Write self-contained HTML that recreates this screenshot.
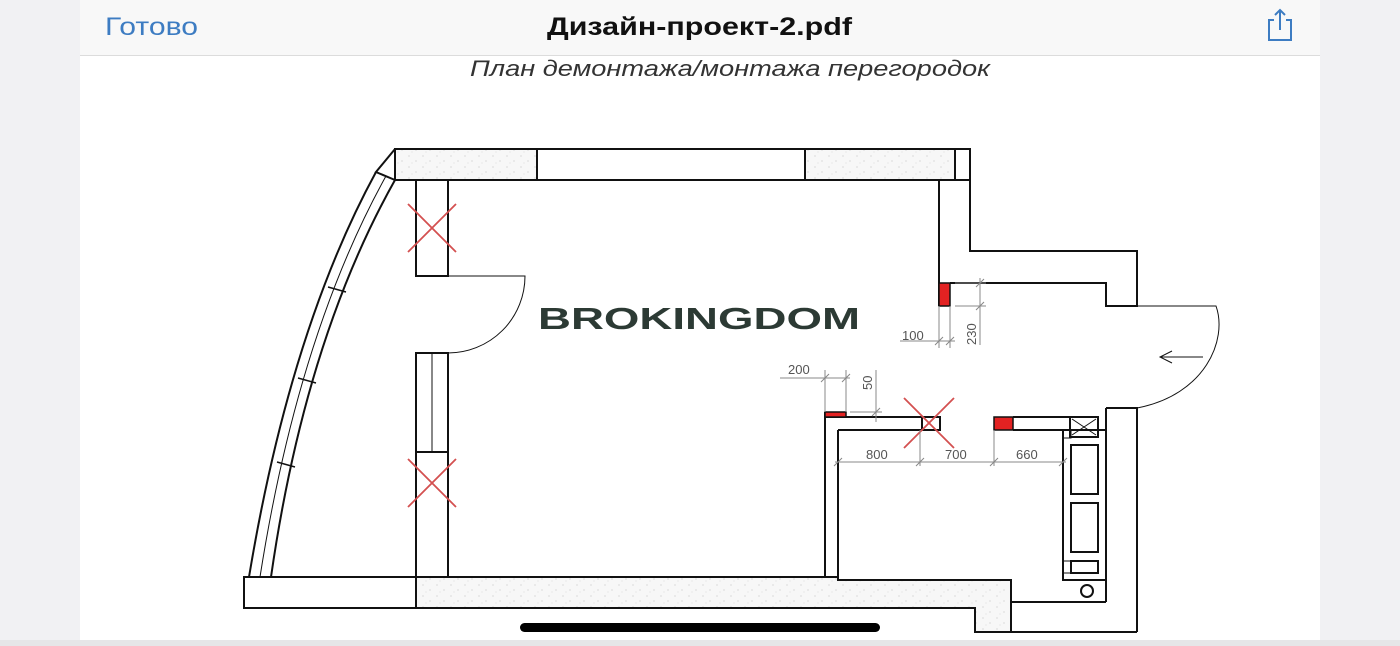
<!DOCTYPE html>
<html><head><meta charset="utf-8"><style>
html,body{margin:0;padding:0;width:1400px;height:646px;overflow:hidden;background:#fff}
svg{display:block}
</style></head><body>
<svg width="1400" height="646" viewBox="0 0 1400 646" xmlns="http://www.w3.org/2000/svg" font-family="Liberation Sans, sans-serif">
<defs>
<pattern id="h" width="14" height="11" patternUnits="userSpaceOnUse">
<rect width="14" height="11" fill="#f7f7f7"/>
<circle cx="3" cy="2" r="0.6" fill="#c8c8c8"/><circle cx="10" cy="7" r="0.6" fill="#c8c8c8"/><circle cx="6" cy="9" r="0.5" fill="#d0d0d0"/>
</pattern>
</defs>
<rect width="1400" height="646" fill="#f1f1f3"/>
<rect x="80" y="0" width="1240" height="646" fill="#fff"/>
<rect x="80" y="0" width="1240" height="55" fill="#f8f8f8"/>
<line x1="80" y1="55.5" x2="1320" y2="55.5" stroke="#dcdcdc"/>
<rect x="0" y="640" width="1400" height="6" fill="#e6e6e8"/>
<text x="105" y="35" font-size="25" fill="#3d7cc2" textLength="93" lengthAdjust="spacingAndGlyphs">Готово</text>
<text x="547" y="35" font-size="25" font-weight="bold" fill="#111" textLength="305" lengthAdjust="spacingAndGlyphs">Дизайн-проект-2.pdf</text>
<g stroke="#3d7cc2" stroke-width="2" fill="none"><path d="M1274 20 h-5 v20 h22 v-20 h-5"/><path d="M1280 30 V10 M1275 15 l5 -5 5 5"/></g>
<text x="730" y="76" font-size="22" font-style="italic" text-anchor="middle" fill="#333" textLength="520" lengthAdjust="spacingAndGlyphs">План демонтажа/монтажа перегородок</text>

<g stroke="#111" stroke-width="2" fill="none">
<rect x="395" y="149" width="142" height="31" fill="url(#h)"/>
<rect x="537" y="149" width="268" height="31"/>
<rect x="805" y="149" width="150" height="31" fill="url(#h)"/>
<rect x="955" y="149" width="15" height="31"/>
<path d="M395 149 L376 172 L395 180"/>
<path d="M376 172 Q290 330 249 577"/>
<path d="M395 180 Q305 340 271 577"/>
<path d="M386 176 Q298 335 260 577" stroke-width="1"/>
<path d="M328 287 l18 5 M298 378 l18 5 M277 462 l18 5" stroke-width="1.5"/>
<rect x="416" y="180" width="32" height="96"/>
<rect x="416" y="353" width="32" height="224"/>
<line x1="416" y1="452" x2="448" y2="452"/>
<line x1="432" y1="353" x2="432" y2="452" stroke-width="1"/>
<path d="M448 276 H525 A77 77 0 0 1 448 353" stroke-width="1"/>
<rect x="244" y="577" width="172" height="31"/>
<path d="M416 577 H838 V580 H1011 V632 H975 V608 H416 Z" fill="url(#h)"/>
<path d="M1011 602 H1106 M1011 632 H1137"/>
<path d="M939 180 V306 M970 180 V251 H1137 V306 H1106 V283 H950"/>
<path d="M1137 306 H1216 C1228 340 1205 395 1137 408" stroke-width="1"/>
<path d="M1203 357 H1160 M1172 351 L1160 357 L1172 363" stroke-width="1"/>
<path d="M1106 408 H1137 V632 M1106 408 V602"/>
<path d="M825 412 V577 M838 430 V580"/>
<path d="M825 417 H922 M838 430 H922"/>
<rect x="922" y="417" width="18" height="13"/>
<path d="M1013 417 H1070 M1013 430 H1063"/>
<rect x="1063" y="430" width="43" height="150"/>
<rect x="1070" y="417" width="28" height="20"/>
<path d="M1072 419 L1096 435 M1096 419 L1072 435" stroke-width="1"/>
<rect x="1071" y="445" width="27" height="49"/>
<rect x="1071" y="503" width="27" height="49"/>
<rect x="1071" y="561" width="27" height="12"/>
<rect x="1063" y="561" width="8" height="12" stroke-width="1"/>
<rect x="1063" y="430" width="8" height="8" stroke-width="1"/>
<circle cx="1087" cy="591" r="6"/>
</g>
<g fill="#e32222" stroke="#111" stroke-width="1.5">
<rect x="939" y="283" width="11" height="23"/>
<rect x="825" y="412" width="21" height="5"/>
<rect x="994" y="417" width="19" height="13"/>
</g>
<g stroke="#d45050" stroke-width="1.8">
<path d="M408 204 L456 252 M456 204 L408 252"/>
<path d="M408 459 L456 507 M456 459 L408 507"/>
<path d="M904 398 L954 448 M954 398 L904 448"/>
</g>
<g stroke="#888" stroke-width="1" fill="none">
<path d="M900 341 H955 M939 306 V348 M950 306 V348 M935 345 l8 -8 M946 345 l8 -8"/>
<path d="M980 278 V345 M955 283 H986 M955 306 H986 M976 287 l8 -8 M976 310 l8 -8"/>
<path d="M780 378 H850 M825 370 V412 M846 370 V412 M821 382 l8 -8 M842 382 l8 -8"/>
<path d="M876 370 V422 M850 412 H882 M872 416 l8 -8"/>
<path d="M835 462 H1066 M920 430 V466 M994 430 V466 M834 466 l8 -8 M916 466 l8 -8 M990 466 l8 -8 M1059 466 l8 -8"/>
</g>
<g fill="#555" font-size="13">
<text x="902" y="340">100</text>
<text x="788" y="374">200</text>
<text x="866" y="459">800</text>
<text x="945" y="459">700</text>
<text x="1016" y="459">660</text>
<text transform="translate(976 345) rotate(-90)">230</text>
<text transform="translate(872 390) rotate(-90)">50</text>
</g>
<text x="538" y="329" font-size="31" font-weight="bold" fill="#2c3a34" textLength="322" lengthAdjust="spacingAndGlyphs">BROKINGDOM</text>
<rect x="520" y="623" width="360" height="9" rx="4.5" fill="#000"/>
</svg>
</body></html>
